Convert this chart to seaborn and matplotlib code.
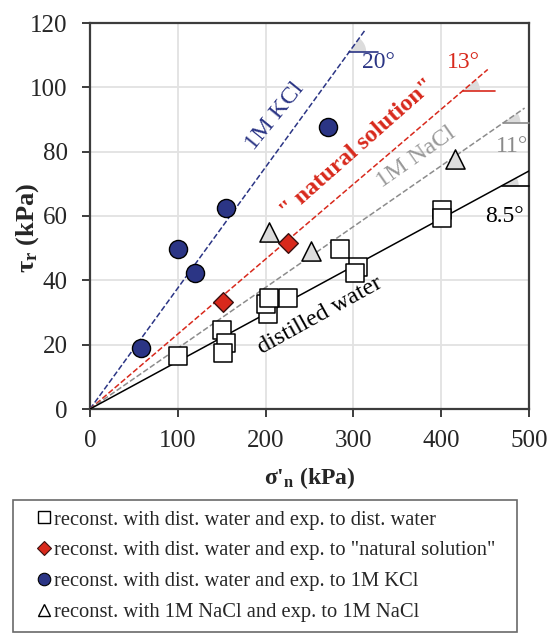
import numpy as np
import matplotlib
matplotlib.use("Agg")
import matplotlib.pyplot as plt
from matplotlib.lines import Line2D
import seaborn as sns

# ---------------- data ----------------
dist_x = [100, 150, 155, 151, 203, 200, 204, 225, 285, 305, 302, 401, 401]
dist_y = [16.5, 24.5, 20.5, 17.5, 29.5, 32.5, 34.5, 34.6, 49.8, 44.3, 42.3, 62.0, 59.5]

nat_x = [151, 225]
nat_y = [33.3, 51.7]

kcl_x = [58, 100, 120, 155, 271]
kcl_y = [19.0, 49.8, 42.4, 62.6, 87.8]

nacl_x = [203.5, 252, 416]
nacl_y = [55.0, 49.2, 77.6]

# fitted envelope lines through origin
line_slopes = [0.376, 0.233, 0.189, 0.148]
line_xend = [313, 453, 495, 500]
line_angles = ["20°", "13°", "11°", "8.5°"]
angle_level = [111, 99, 89, 69.4]      # y of little horizontal reference line
angle_hend = [328, 461, 500, 500]
angle_lbl_xy = [(328, 107.6), (425, 107.6), (481, 81.5), (472, 60.0)]

line_labels = ["1M KCl", '" natural solution"', "1M NaCl", "distilled water"]
line_lbl_xy = [(211, 91), (305, 81), (372, 78.3), (262, 29)]
line_lbl_rot = [51, 41.5, 35, 29]

navy = "#2b3585"
red = "#d8291c"
gray = "#8c8c8c"
line_colors = [navy, red, gray, "black"]
line_styles = ["--", "--", "--", "-"]
lbl_colors = [navy, red, "#999999", "black"]
ang_colors = [navy, red, "#8a8a8a", "black"]

# ---------------- style ----------------
sns.set_theme(style="whitegrid")
plt.rcParams["font.family"] = ["Liberation Serif", "DejaVu Serif"]
plt.rcParams["mathtext.fontset"] = "custom"
plt.rcParams["mathtext.rm"] = "Liberation Serif"
plt.rcParams["mathtext.it"] = "Liberation Serif:italic"
plt.rcParams["mathtext.bf"] = "Liberation Serif:bold"

fig = plt.figure(figsize=(5.52, 6.33), dpi=100)
ax = fig.add_axes([90 / 552, 1 - 409 / 633, 439 / 552, 386 / 633])
ax.set_facecolor("white")

ax.set_xlim(0, 500)
ax.set_ylim(0, 120)
sx = 439 / 500.0
sy = 386 / 120.0

# envelope lines
for s, xe, c, ls in zip(line_slopes, line_xend, line_colors, line_styles):
    sns.lineplot(x=[0, xe], y=[0, s * xe], color=c, linestyle=ls,
                 linewidth=1.1, ax=ax, zorder=3)

# angle markers
for s, yl, xh, txt, (tx, ty), c in zip(line_slopes, angle_level, angle_hend,
                                       line_angles, angle_lbl_xy, ang_colors):
    x0 = yl / s
    theta = np.arctan(s * sy / sx)
    r = 17
    t = np.linspace(0, theta, 20)
    px = np.concatenate([[x0], x0 + r * np.cos(t) / sx])
    py = np.concatenate([[yl], yl + r * np.sin(t) / sy])
    ax.fill(px, py, color="#dcdcdc", zorder=2, lw=0)
    ax.plot([x0, xh], [yl, yl], color=c, lw=1.2, zorder=3, clip_on=False)
    ax.text(tx, ty, txt, color=c, fontsize=17, ha="center", va="center",
            zorder=4, clip_on=False)

# line labels
for txt, (tx, ty), rot, c in zip(line_labels, line_lbl_xy, line_lbl_rot, lbl_colors):
    fw = "bold" if "natural" in txt else "normal"
    ax.text(tx, ty, txt, color=c, fontsize=17.5, rotation=rot, ha="center",
            va="center", rotation_mode="anchor", fontweight=fw, zorder=4)

# data points
sns.scatterplot(x=dist_x, y=dist_y, marker="s", s=150, facecolor="white",
                edgecolor="black", linewidth=1.1, ax=ax, zorder=5)
sns.scatterplot(x=nat_x, y=nat_y, marker="D", s=100, facecolor=red,
                edgecolor="#3a1010", linewidth=1.0, ax=ax, zorder=5)
sns.scatterplot(x=kcl_x, y=kcl_y, marker="o", s=170, facecolor=navy,
                edgecolor="black", linewidth=1.0, ax=ax, zorder=5)
sns.scatterplot(x=nacl_x, y=nacl_y, marker="^", s=190, facecolor="#dcdcdc",
                edgecolor="black", linewidth=1.1, ax=ax, zorder=5)

# axes cosmetics
ax.set_xticks([0, 100, 200, 300, 400, 500])
ax.set_yticks([0, 20, 40, 60, 80, 100, 120])
ax.grid(True, color="#e2e2e2", linewidth=1.3)
for sp in ax.spines.values():
    sp.set_visible(True)
    sp.set_color("#3c3c3c")
    sp.set_linewidth(1.6)
ax.tick_params(axis="both", which="major", direction="out", length=6,
               width=1.4, color="#3c3c3c", labelsize=18,
               bottom=True, left=True)
ax.tick_params(axis="x", pad=9)
ax.tick_params(axis="y", pad=10)
ax.set_xlabel("σ'$_\\mathbf{n}$ (kPa)", fontsize=17, fontweight="bold")
ax.set_ylabel("τ$_\\mathbf{r}$ (kPa)", fontsize=19, fontweight="bold")
ax.xaxis.set_label_coords(0.5, (409 - 478) / 386)
ax.xaxis.label.set_va("center")
ax.yaxis.set_label_coords((28 - 90) / 439, (409 - 228) / 386)
ax.yaxis.label.set_va("center")

# legend below the plot
handles = [
    Line2D([], [], marker="s", ls="", markersize=8, markerfacecolor="white",
           markeredgecolor="black", markeredgewidth=1.0),
    Line2D([], [], marker="D", ls="", markersize=7, markerfacecolor=red,
           markeredgecolor="#3a1010", markeredgewidth=0.8),
    Line2D([], [], marker="o", ls="", markersize=9, markerfacecolor=navy,
           markeredgecolor="black", markeredgewidth=0.8),
    Line2D([], [], marker="^", ls="", markersize=9, markerfacecolor="white",
           markeredgecolor="black", markeredgewidth=1.0),
]
labels = [
    "reconst. with dist. water and exp. to dist. water",
    'reconst. with dist. water and exp. to "natural solution"',
    "reconst. with dist. water and exp. to 1M KCl",
    "reconst. with 1M NaCl and exp. to 1M NaCl",
]
leg = fig.legend(handles, labels, loc="upper left",
                 bbox_to_anchor=(13 / 552, 1 - 500 / 633, 504 / 552, 0.0),
                 mode="expand", frameon=True, fancybox=False, fontsize=14.8,
                 handlelength=2.0, handletextpad=-0.5, labelspacing=0.55,
                 borderpad=0.5, borderaxespad=0)
leg.get_frame().set_edgecolor("#444444")
leg.get_frame().set_linewidth(1.2)

fig.savefig("out.png", dpi=100)
